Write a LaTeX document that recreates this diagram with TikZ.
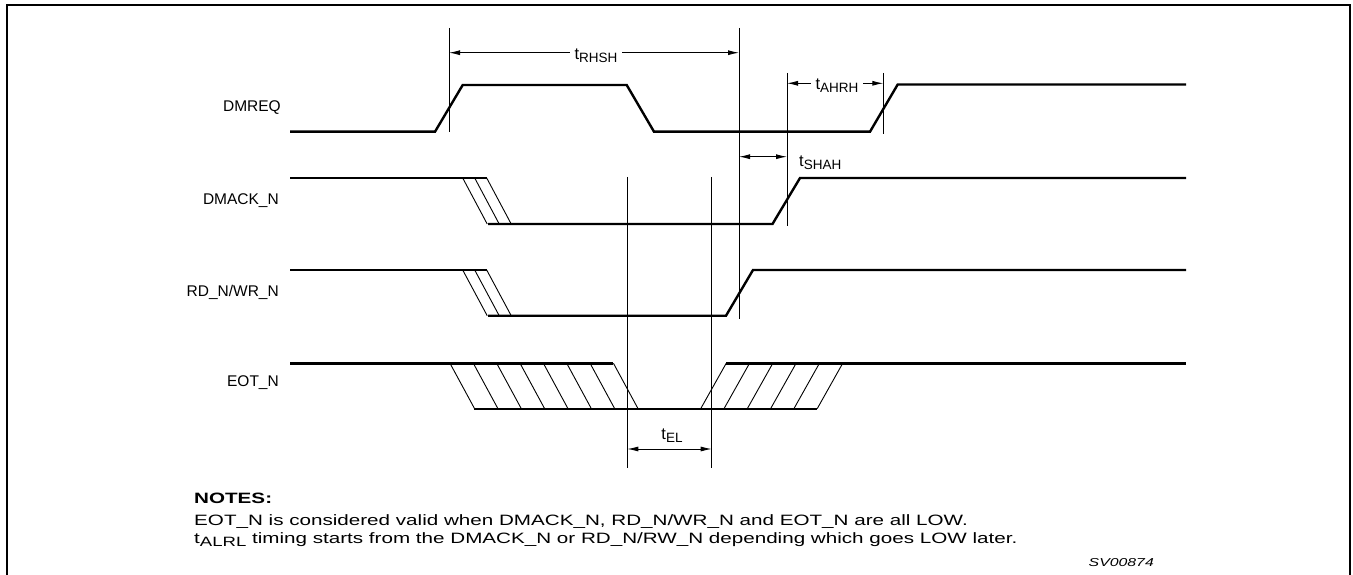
\documentclass[tikz,border=0pt]{standalone}
\usepackage{fontspec}
\setmainfont{Liberation Sans}
\newfontfamily\notefont[FakeStretch=1.375]{Liberation Sans}
\usetikzlibrary{arrows.meta,positioning}

\newcommand{\tparam}[1]{t\raisebox{-3pt}{\fontsize{13.5}{15}\selectfont #1}}

\begin{document}
\begin{tikzpicture}[
    x=1pt, y=-1pt,
    sig/.style={line width=2.4pt, line join=miter},
    hatch/.style={line width=0.9pt},
    mark line/.style={line width=0.9pt},
    dim/.style={{Latex[length=11pt,width=5pt]}-{Latex[length=11pt,width=5pt]}, line width=0.9pt},
    signame/.style={font=\fontsize{15.5}{18}\selectfont, anchor=east, inner sep=0pt},
    tlabel/.style={font=\fontsize{16.5}{19}\selectfont, inner xsep=5pt, inner ysep=0.5pt, fill=white},
    note/.style={font=\notefont\fontsize{15}{18}\selectfont, anchor=west, inner sep=0pt}
]
\useasboundingbox (0,0) rectangle (1353,575);

% frame
\draw[line width=2.6pt] (7,575) -- (7,5) -- (1350,5) -- (1350,575);

% signal names
\node[signame] (nDmreq) at (281,108) {DMREQ};
\node[signame] (nDmack) at (279,201) {DMACK\_N};
\node[signame] (nRdwr)  at (279,292) {RD\_N/WR\_N};
\node[signame] (nEot)   at (279,383) {EOT\_N};

% DMREQ
\draw[sig] (290,131.7) -- (435,131.7) -- (462.7,85) -- (626.7,85) -- (654,131.7)
    -- (870,131.7) -- (897.7,84.5) -- (1186,84.5);

% DMACK_N
\draw[sig] (290,178) -- (486.7,178);
\draw[sig] (488,224) -- (772.5,224) -- (800,178) -- (1186,178);
\foreach \dx in {0,12,24}
    \draw[hatch] ({462.7+\dx},178) -- ++(24.5,46);

% RD_N/WR_N
\draw[sig] (290,270) -- (486.7,270);
\draw[sig] (488,315.7) -- (726,315.7) -- (753,270) -- (1186,270);
\foreach \dx in {0,12,24}
    \draw[hatch] ({462.7+\dx},270) -- ++(24.5,45.7);

% EOT_N
\draw[sig] (290,363.3) -- (613.3,363.3);
\draw[sig] (474.3,408.7) -- (817.3,408.7);
\draw[sig] (726,363.3) -- (1186,363.3);
\foreach \i in {0,...,7}
    \draw[hatch] ({450+23.35*\i},363.3) -- ++(24.6,45.4);
\foreach \i in {0,...,5}
    \draw[hatch] ({700.7+23.3*\i},408.7) -- ++(25.5,-45.4);

% reference lines
\draw[mark line] (449,28) -- (449,132);
\draw[mark line] (739,28) -- (739,319);
\draw[mark line] (787,73) -- (787,226);
\draw[mark line] (883.3,73) -- (883.3,134);
\draw[mark line] (627.3,177) -- (627.3,468);
\draw[mark line] (711.7,177) -- (711.7,468);

% timing arrows
\coordinate (rhshL) at (449,52.7);
\coordinate (rhshR) at (739,52.7);
\coordinate (ahrhL) at (787,83.3);
\coordinate (ahrhR) at (883.3,83.3);
\coordinate (shahL) at (739,156.7);
\coordinate (shahR) at (787,156.7);
\coordinate (elL) at (627.3,449);
\coordinate (elR) at (711.7,449);

\draw[dim] (rhshL) -- (rhshR);
\node[tlabel, anchor=base] (tRhsh) at (596,60) {\tparam{RHSH}};
\draw[dim] (ahrhL) -- (ahrhR);
\node[tlabel, anchor=base, inner xsep=5pt] (tAhrh) at (837,90) {\tparam{AHRH}};
\draw[dim] (shahL) -- (shahR);
\node[tlabel, anchor=base west, inner xsep=0pt, fill=none] (tShah) at (799,166.5) {\tparam{SHAH}};
\draw[dim] (elL) -- (elR);
\node[tlabel, anchor=base, fill=none] (tEl) at (672,439.3) {\tparam{EL}};

% notes
\node[note] (notesHead) at (194,498) {\textbf{NOTES:}};
\node[note] (notesA) at (194,521.5) {EOT\_N is considered valid when DMACK\_N, RD\_N/WR\_N and EOT\_N are all LOW.};
\node[note] (notesB) at (194,540) {\tparam{ALRL} timing starts from the DMACK\_N or RD\_N/RW\_N depending which goes LOW later.};
\node[note, anchor=east, font=\notefont\fontsize{11.5}{14}\selectfont\itshape] (figId) at (1154,563) {SV00874};

\end{tikzpicture}
\end{document}
